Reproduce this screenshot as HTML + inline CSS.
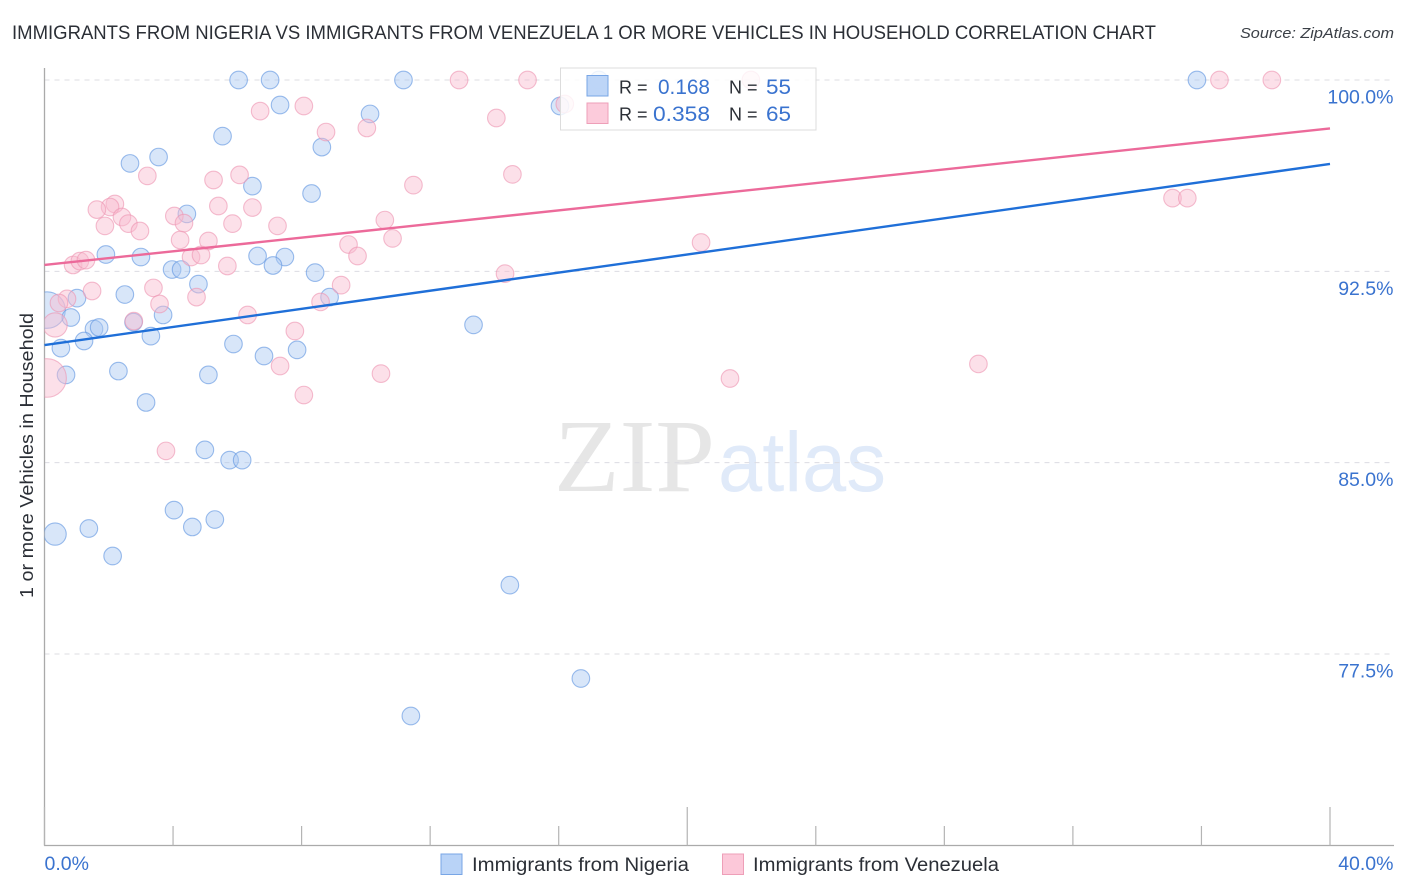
<!DOCTYPE html>
<html lang="en">
<head>
<meta charset="utf-8">
<title>Immigrants from Nigeria vs Immigrants from Venezuela</title>
<style>
html,body{margin:0;padding:0;background:#fff;width:1406px;height:892px;overflow:hidden}
svg{display:block;font-family:"Liberation Sans",sans-serif}
</style>
</head>
<body>
<svg id="chart" xmlns="http://www.w3.org/2000/svg" width="1406" height="892" viewBox="0 0 1406 892">
  <defs><clipPath id="plot-clip"><rect x="44.5" y="60" width="1350" height="785"/></clipPath></defs>
  <text x="12" y="39" font-size="19" fill="#2b2f36" textLength="1144" lengthAdjust="spacingAndGlyphs">IMMIGRANTS FROM NIGERIA VS IMMIGRANTS FROM VENEZUELA 1 OR MORE VEHICLES IN HOUSEHOLD CORRELATION CHART</text>
  <text x="1394" y="38" font-size="15" font-style="italic" fill="#3a3f46" text-anchor="end" textLength="154" lengthAdjust="spacingAndGlyphs">Source: ZipAtlas.com</text>

  <g>
    <text x="554" y="491" font-family="'Liberation Serif',serif" font-size="104" fill="#e6e6e6" textLength="161" lengthAdjust="spacingAndGlyphs">ZIP</text>
    <text x="718" y="491" font-size="84" fill="#e0eaf9" textLength="168" lengthAdjust="spacingAndGlyphs">atlas</text>
  </g>

  <g id="grid"></g>
  <g id="axes"></g>
  <g id="points" clip-path="url(#plot-clip)"></g>
  <g id="trends"></g>

  <text transform="translate(33,455.5) rotate(-90)" font-size="18" fill="#2b2f36" text-anchor="middle" textLength="285" lengthAdjust="spacingAndGlyphs">1 or more Vehicles in Household</text>

  <g>
    <rect x="560.5" y="68" width="255.5" height="62" fill="#fff" fill-opacity="0.82" stroke="#dcdcdc" stroke-width="1"/>
    <rect x="587" y="75.5" width="21" height="20.5" fill="#b9d3f7" fill-opacity="0.95" stroke="#78a6e6" stroke-width="1"/>
    <rect x="587" y="103" width="21" height="20.5" fill="#fcc8d9" fill-opacity="0.95" stroke="#ee9fb8" stroke-width="1"/>
    <text x="619" y="93.5" font-size="18" fill="#2b2f36">R =</text>
    <text x="710" y="94" font-size="21" fill="#3a73cf" text-anchor="end" textLength="52" lengthAdjust="spacingAndGlyphs">0.168</text>
    <text x="729" y="93.5" font-size="18" fill="#2b2f36">N =</text>
    <text x="791" y="94" font-size="21" fill="#3a73cf" text-anchor="end" textLength="25" lengthAdjust="spacingAndGlyphs">55</text>
    <text x="619" y="120.5" font-size="18" fill="#2b2f36">R =</text>
    <text x="710" y="121" font-size="21" fill="#3a73cf" text-anchor="end" textLength="57" lengthAdjust="spacingAndGlyphs">0.358</text>
    <text x="729" y="120.5" font-size="18" fill="#2b2f36">N =</text>
    <text x="791" y="121" font-size="21" fill="#3a73cf" text-anchor="end" textLength="25" lengthAdjust="spacingAndGlyphs">65</text>
  </g>

  <g>
    <rect x="441" y="854" width="21" height="20.5" fill="#b9d3f7" stroke="#78a6e6" stroke-width="1"/>
    <text x="472" y="871" font-size="19" fill="#2b2f36" textLength="217" lengthAdjust="spacingAndGlyphs">Immigrants from Nigeria</text>
    <rect x="722.5" y="854" width="21" height="20.5" fill="#fcc8d9" stroke="#ee9fb8" stroke-width="1"/>
    <text x="753" y="871" font-size="19" fill="#2b2f36" textLength="246" lengthAdjust="spacingAndGlyphs">Immigrants from Venezuela</text>
  </g>
</svg>
<script>
const yTickValues = [100, 92.5, 85, 77.5];
const yTickLabels = ["100.0%", "92.5%", "85.0%", "77.5%"];
const xTickValues = [0, 4, 8, 12, 16, 20, 24, 28, 32, 36, 40];
const xMajorTicks = [0, 20, 40];
const xEndLabels = ["0.0%", "40.0%"];

const nigeriaX = [6.04,7.02,11.17,35.86,17.25,7.33,10.13,16.04,5.54,8.63,2.66,3.55,6.47,8.31,4.43,1.91,3.00,6.63,7.48,3.97,4.25,7.11,8.42,4.79,2.50,1.01,8.87,0.08,0.82,3.69,2.77,1.54,1.70,1.23,3.31,0.51,5.88,6.83,7.86,13.35,2.30,0.67,5.10,3.16,4.99,5.76,6.15,4.03,5.30,4.60,1.38,0.33,2.12,14.48,16.69,11.40];
const nigeriaY = [100,100,100,100,100,99.02,98.67,98.98,97.80,97.37,96.73,96.98,95.84,95.55,94.75,93.16,93.06,93.10,93.06,92.57,92.57,92.73,92.45,92.00,91.59,91.45,91.49,90.98,90.69,90.79,90.51,90.24,90.30,89.77,89.96,89.49,89.65,89.18,89.42,90.40,88.59,88.44,88.44,87.36,85.50,85.10,85.10,83.14,82.77,82.48,82.42,82.20,81.34,80.20,76.54,75.07];
const nigeriaWeight = [1,1,1,1,1,1,1,1,1,1,1,1,1,1,1,1,1,1,1,1,1,1,1,1,1,1,1,4.3,1,1,1,1,1,1,1,1,1,1,1,1,1,1,1,1,1,1,1,1,1,1,1,1.6,1,1,1,1];

const venezuelaX = [12.90,15.03,21.98,36.56,38.19,8.07,6.71,14.06,10.03,8.76,16.19,3.20,5.26,6.07,14.56,11.48,2.19,2.04,1.63,2.41,2.61,1.88,2.97,4.04,4.34,5.41,6.47,5.85,7.25,10.59,10.83,4.22,5.10,9.46,9.74,4.56,4.87,5.69,0.89,1.10,1.29,14.33,20.43,35.10,35.56,1.48,3.39,4.73,9.23,8.59,0.70,0.45,3.58,2.78,6.32,7.79,0.33,7.33,10.47,8.07,21.33,29.06,3.78,0.08];
const venezuelaY = [100,100,100,100,100,98.98,98.78,98.51,98.12,97.96,99.06,96.24,96.08,96.28,96.30,95.88,95.14,95.02,94.92,94.63,94.37,94.28,94.08,94.67,94.39,95.06,95.00,94.37,94.28,94.51,93.79,93.73,93.69,93.55,93.10,93.06,93.14,92.71,92.75,92.90,92.94,92.41,93.63,95.37,95.37,91.73,91.85,91.49,91.96,91.30,91.42,91.26,91.22,90.55,90.79,90.16,90.40,88.79,88.49,87.65,88.30,88.87,85.46,88.32];
const venezuelaWeight = [1,1,1,1,1,1,1,1,1,1,1,1,1,1,1,1,1,1,1,1,1,1,1,1,1,1,1,1,1,1,1,1,1,1,1,1,1,1,1,1,1,1,1,1,1,1,1,1,1,1,1,1,1,1,1,1,1.9,1,1,1,1,1,1,4.8];

const trendX = [0, 40];
const nigeriaTrend = [89.61, 96.71];
const venezuelaTrend = [92.75, 98.10];

const NS = "http://www.w3.org/2000/svg";
function xScale(v){ return 44.5 + v * (1330 - 44.5) / 40; }
function yScale(v){ return 80 + (100 - v) * (654 - 80) / 22.5; }
function rScale(w){ return 8.8 * Math.sqrt(w); }
function make(tag, attrs, parent){
  const el = document.createElementNS(NS, tag);
  for (const k in attrs) el.setAttribute(k, attrs[k]);
  parent.appendChild(el);
  return el;
}
const grid = document.getElementById("grid");
const axes = document.getElementById("axes");
const points = document.getElementById("points");
const trends = document.getElementById("trends");

yTickValues.forEach(function(v, i){
  const y = yScale(v);
  const line = make("line", {x1:44.5, x2:1393, y1:y, y2:y, stroke:"#dcdce2", "stroke-width":1, "stroke-dasharray":"5 5"}, grid);
  
  
  const label = make("text", {x:1393.5, y:y + 23.5, "font-size":19.5, fill:"#3a73cf", "text-anchor":"end"}, axes);
  
  
  label.textContent = yTickLabels[i];
});

const yAxis = make("line", {x1:44.5, x2:44.5, y1:68, y2:845.5, stroke:"#aaaaaa", "stroke-width":1.3}, axes);


const xAxis = make("line", {x1:44, x2:1394, y1:845.5, y2:845.5, stroke:"#aaaaaa", "stroke-width":1.3}, axes);



xTickValues.forEach(function(v){
  const x = xScale(v);
  const top = xMajorTicks.indexOf(v) >= 0 ? 807 : 826;
  const tick = make("line", {x1:x, x2:x, y1:top, y2:845.5, stroke:"#b4b4b4", "stroke-width":1.2}, axes);
  
  
});

const xLabelLeft = make("text", {x:xScale(0), y:870, "font-size":19.5, fill:"#3a73cf"}, axes);


xLabelLeft.textContent = xEndLabels[0];
const xLabelRight = make("text", {x:1393.5, y:870, "font-size":19.5, fill:"#3a73cf", "text-anchor":"end"}, axes);


xLabelRight.textContent = xEndLabels[1];

nigeriaX.forEach(function(v, i){
  const dot = make("circle", {cx:xScale(v), cy:yScale(nigeriaY[i]), r:rScale(nigeriaWeight[i]), fill:"#a9c8f2", "fill-opacity":0.46, stroke:"#5f95e0", "stroke-opacity":0.62, "stroke-width":1.1}, points);
  
  
});
venezuelaX.forEach(function(v, i){
  const dot = make("circle", {cx:xScale(v), cy:yScale(venezuelaY[i]), r:rScale(venezuelaWeight[i]), fill:"#f9bcd0", "fill-opacity":0.46, stroke:"#ee94b2", "stroke-opacity":0.62, "stroke-width":1.1}, points);
  
  
});

const nigeriaLine = make("line", {x1:xScale(trendX[0]), x2:xScale(trendX[1]), y1:yScale(nigeriaTrend[0]), y2:yScale(nigeriaTrend[1]), stroke:"#1f6fd8", "stroke-width":2.4}, trends);


const venezuelaLine = make("line", {x1:xScale(trendX[0]), x2:xScale(trendX[1]), y1:yScale(venezuelaTrend[0]), y2:yScale(venezuelaTrend[1]), stroke:"#ec6a9a", "stroke-width":2.4}, trends);


</script>
</body>
</html>
